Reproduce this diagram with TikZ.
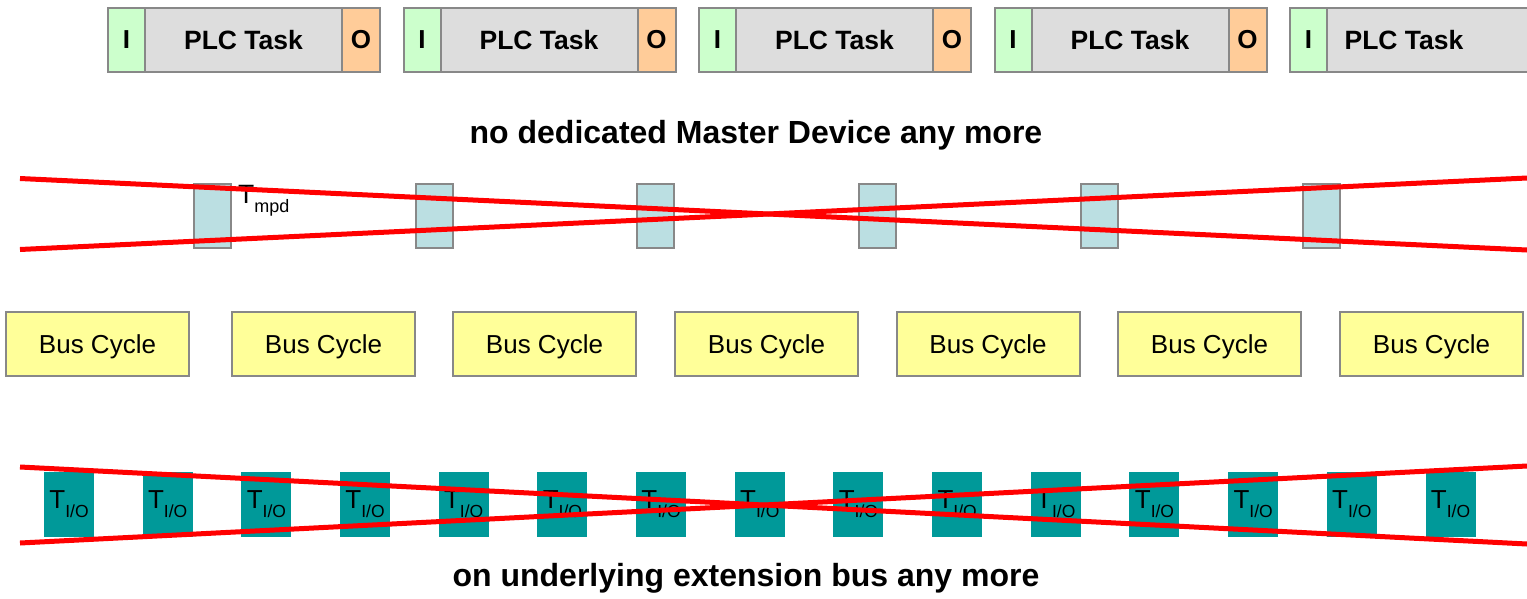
\documentclass[tikz,border=0pt]{standalone}
\usepackage{fontspec}
\setmainfont{Liberation Sans}
\definecolor{igreen}{HTML}{CCFFCC}
\definecolor{tgray}{HTML}{DDDDDD}
\definecolor{oorange}{HTML}{FFCC99}
\definecolor{bord}{HTML}{888888}
\definecolor{mpdblue}{HTML}{BBDFE2}
\definecolor{busyellow}{HTML}{FFFF99}
\definecolor{teal}{HTML}{009999}
\definecolor{xred}{HTML}{FF0000}
\newcommand{\fs}[1]{\fontsize{#1}{#1}\selectfont}
\begin{document}
\begin{tikzpicture}[x=1pt,y=-1pt,
  boxbase/.style={draw=bord,line width=2pt,inner sep=0pt,minimum height=64pt},
  ibox/.style={boxbase,fill=igreen,minimum width=37pt,font=\fs{26}\bfseries},
  taskbox/.style={boxbase,fill=tgray,minimum width=197pt,font=\fs{26.5}\bfseries},
  obox/.style={boxbase,fill=oorange,minimum width=38pt,font=\fs{26}\bfseries},
  mpdbox/.style={boxbase,fill=mpdblue,minimum width=37pt},
  busbox/.style={boxbase,fill=busyellow,minimum width=183pt,font=\fs{26},text depth=0pt},
  iobox/.style={fill=teal,inner sep=0pt,minimum width=50pt,minimum height=65pt,font=\fs{26}},
  headline/.style={font=\fs{32}\bfseries,inner sep=0pt,anchor=base},
  cross/.style={draw=xred,line width=5pt}
]
\useasboundingbox (0,0) rectangle (1527,598);
\clip (0,0) rectangle (1527,598);

% PLC task blocks
\foreach \k in {0,1,2,3}{
  \node[ibox] (i\k) at ({126.5+295.5*\k},40) {I};
  \node[taskbox] (t\k) at ({243.5+295.5*\k},40) {PLC Task};
  \node[obox] (o\k) at ({361+295.5*\k},40) {O};
}
\node[ibox] (i4) at (1308.5,40) {I};
\node[boxbase,fill=tgray,minimum width=220pt] (t4) at (1437,40) {};
\node[font=\fs{26.5}\bfseries,inner sep=0pt] (t4lbl) at (1404,40) {PLC Task};

\node[headline] (title) at (756,143) {no dedicated Master Device any more};

% master device boxes
\foreach \k in {0,...,5}{
  \node[mpdbox] (m\k) at ({212.5+221.7*\k},216) {};
}
\node[anchor=base west,inner sep=0pt,font=\fs{26.5}] (tmpd) at (238,203) {T\raisebox{-9pt}{\fs{18}mpd}};

\coordinate (a1) at (20,178.5);
\coordinate (a2) at (1527,250);
\coordinate (b1) at (20,249.5);
\coordinate (b2) at (1527,178);
\draw[cross] (a1) -- (a2);
\draw[cross] (b1) -- (b2);

% bus cycles
\foreach \x [count=\k] in {97.5,323.5,544.5,766.5,988,1209.5,1431.5}{
  \node[busbox] (bc\k) at (\x,344) {Bus Cycle};
}

% I/O boxes
\foreach \k in {0,...,14}{
  \node[iobox] (io\k) at ({69+98.68*\k},504.5) {T\raisebox{-9pt}{\fs{17.5}I/O}};
}

\coordinate (c1) at (20,467);
\coordinate (c2) at (1527,544);
\coordinate (d1) at (20,543);
\coordinate (d2) at (1527,466);
\draw[cross] (c1) -- (c2);
\draw[cross] (d1) -- (d2);

\node[headline] (bottom) at (746,586) {on underlying extension bus any more};
\end{tikzpicture}
\end{document}
